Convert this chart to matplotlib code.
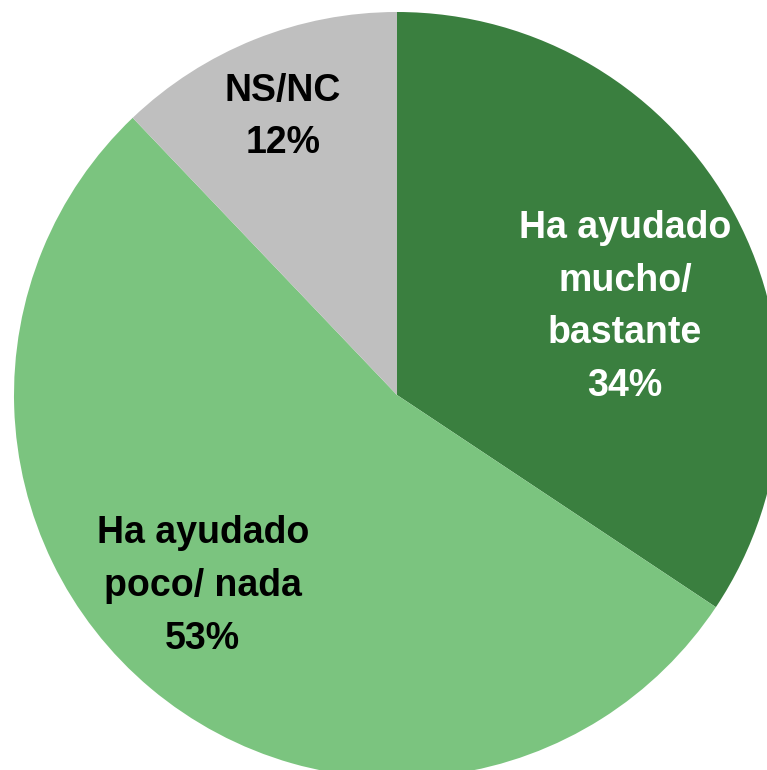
import matplotlib
matplotlib.use("Agg")
import matplotlib.pyplot as plt

labels = ["Ha ayudado\nmucho/\nbastante\n34%", "Ha ayudado\npoco/ nada\n53%", "NS/NC\n12%"]
values = [34, 53, 12]
colors = ["#3A7F3F", "#7BC47F", "#BFBFBF"]
label_pos = [(0.595, 0.23), (-0.507, -0.498), (-0.298, 0.726)]
label_colors = ["white", "black", "black"]

plt.rcParams['font.family'] = ['Liberation Sans Narrow', 'Liberation Sans', 'DejaVu Sans']

fig = plt.figure(figsize=(7.67, 7.70), dpi=100)
ax = fig.add_axes([0, 0, 1, 1])
ax.pie(values, colors=colors, startangle=90, counterclock=False, radius=1,
       wedgeprops=dict(linewidth=0))

for lab, (x, y), c in zip(labels, label_pos, label_colors):
    ax.text(x, y, lab, ha="center", va="center", color=c, fontsize=27,
            fontweight="bold", linespacing=1.6)

ax.set_xlim(-397 / 383, 370 / 383)
ax.set_ylim(-375 / 383, 395 / 383)
ax.set_aspect("auto")
ax.axis("off")

fig.savefig("out.png", dpi=100)
